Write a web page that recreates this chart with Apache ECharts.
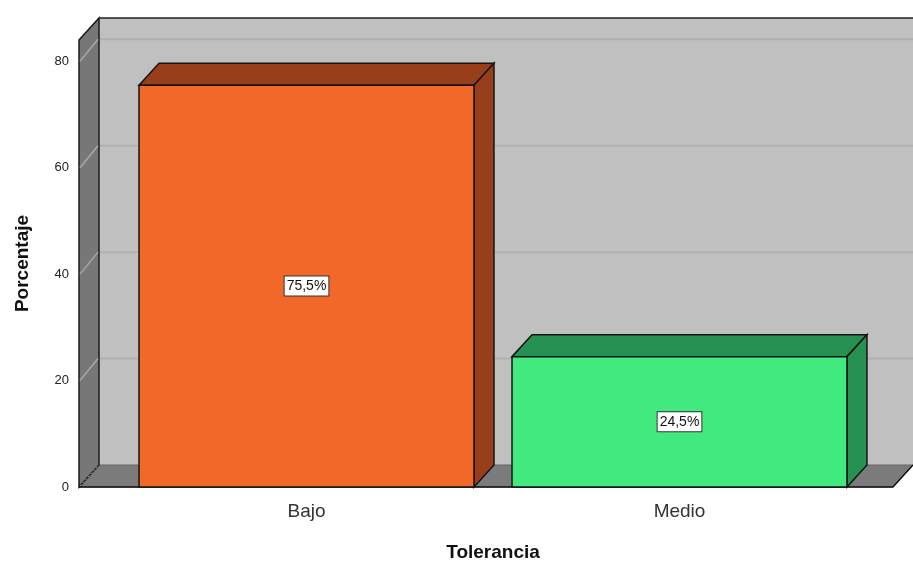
<!DOCTYPE html>
<html>
<head>
<meta charset="utf-8">
<script src="https://cdn.jsdelivr.net/npm/echarts@6/dist/echarts.min.js"></script>
<style>
  html, body { margin: 0; padding: 0; background: #fff; }
  #chart { width: 913px; height: 563px; }
</style>
</head>
<body>
<div id="chart"></div>
<script>
const categories = ['Bajo', 'Medio'];
const percentages = [75.5, 24.5];
const yTicks = [0, 20, 40, 60, 80];
const frontColors = ['#F26829', '#42E97F'];
const shadeColors = ['#983E1A', '#269151'];

// depth offset of the pseudo 3D look
const DX = 20, DY = -22;

function fmt(v) {
    return v.toFixed(1).replace('.', ',') + '%';
}

function renderFrame(params, api) {
    const cs = params.coordSys;
    const fl = cs.x - 41;
    const fr = cs.x + cs.width + 27;
    const yb = api.coord([0, 0])[1];
    const yt = cs.y;
    const children = [];
    // back wall
    children.push({
        type: 'rect',
        shape: { x: fl + DX, y: yt + DY, width: fr - fl + 40, height: yb - yt },
        style: { fill: '#c0c0c0' }
    });
    // grid lines
    yTicks.filter(v => v > 0).forEach(v => {
        const y = api.coord([0, v])[1];
        children.push({
            type: 'line',
            shape: { x1: fl + DX, y1: y + DY, x2: fr + DX + 40, y2: y + DY },
            style: { stroke: '#b0b0b0', lineWidth: 2 }
        });
    });
    // top edge of back wall
    children.push({
        type: 'line',
        shape: { x1: fl + DX, y1: yt + DY, x2: fr + DX + 40, y2: yt + DY },
        style: { stroke: '#222', lineWidth: 1.5 }
    });
    // floor
    children.push({
        type: 'polygon',
        shape: { points: [[fl, yb], [fr, yb], [fr + DX, yb + DY], [fl + DX, yb + DY]] },
        style: { fill: '#7b7b7b', stroke: '#666', lineWidth: 1 }
    });
    // left wall
    children.push({
        type: 'polygon',
        shape: { points: [[fl, yt], [fl + DX, yt + DY], [fl + DX, yb + DY], [fl, yb]] },
        style: { fill: '#777777', stroke: '#1a1a1a', lineWidth: 1.5 }
    });
    yTicks.filter(v => v > 0).forEach(v => {
        const y = api.coord([0, v])[1];
        children.push({
            type: 'line',
            shape: { x1: fl + 1, y1: y, x2: fl + DX - 1, y2: y + DY },
            style: { stroke: '#a8a8a8', lineWidth: 1.5 }
        });
    });
    children.push({
        type: 'line',
        shape: { x1: fl + 1, y1: yb - 1, x2: fl + DX, y2: yb + DY },
        style: { stroke: '#9a9a9a', lineWidth: 1, lineDash: [2, 2] }
    });
    // front floor edge
    children.push({
        type: 'polyline',
        shape: { points: [[fl, yb], [fr, yb], [fr + DX, yb + DY]] },
        style: { stroke: '#111', lineWidth: 1.5, fill: null }
    });
    return { type: 'group', children };
}

function renderBar(params, api) {
    const i = api.value(0);
    const v = api.value(1);
    const top = api.coord([i, v]);
    const base = api.coord([i, 0]);
    const w = api.size([1, 0])[0] * 0.898;
    const x0 = top[0] - w / 2, x1 = top[0] + w / 2;
    const yT = top[1], yB = base[1];
    const edge = { stroke: '#151515', lineWidth: 1.5 };
    return {
        type: 'group',
        children: [
            {
                type: 'polygon',
                shape: { points: [[x0, yT], [x0 + DX, yT + DY], [x1 + DX, yT + DY], [x1, yT]] },
                style: Object.assign({ fill: shadeColors[i] }, edge)
            },
            {
                type: 'polygon',
                shape: { points: [[x1, yT], [x1 + DX, yT + DY], [x1 + DX, yB + DY], [x1, yB]] },
                style: Object.assign({ fill: shadeColors[i] }, edge)
            },
            {
                type: 'rect',
                shape: { x: x0, y: yT, width: w, height: yB - yT },
                style: Object.assign({ fill: frontColors[i] }, edge)
            },
            {
                type: 'text',
                x: top[0],
                y: (yT + yB) / 2,
                style: {
                    text: fmt(v),
                    fill: '#111',
                    font: '14px "Liberation Sans", Arial, sans-serif',
                    align: 'center',
                    verticalAlign: 'middle',
                    backgroundColor: '#fff',
                    borderColor: '#333',
                    borderWidth: 1,
                    padding: [3, 2, 2, 2]
                }
            }
        ]
    };
}

const chart = echarts.init(document.getElementById('chart'));
chart.setOption({
    animation: false,
    backgroundColor: '#fff',
    grid: { left: 120, right: 47, top: 40, bottom: 76, outerBoundsMode: 'none' },
    xAxis: {
        type: 'category',
        data: categories,
        name: 'Tolerancia',
        nameLocation: 'middle',
        nameGap: 56,
        nameTextStyle: { fontSize: 19, fontWeight: 'bold', color: '#111', fontFamily: 'Liberation Sans' },
        axisLine: { show: false },
        axisTick: { show: false },
        axisLabel: { fontSize: 19, color: '#333', margin: 15, fontFamily: 'Liberation Sans' }
    },
    yAxis: {
        type: 'value',
        min: 0,
        max: 84,
        interval: 20,
        name: 'Porcentaje',
        nameLocation: 'middle',
        nameGap: 88,
        nameTextStyle: { fontSize: 19, fontWeight: 'bold', color: '#111', fontFamily: 'Liberation Sans' },
        axisLine: { show: false },
        axisTick: { show: false },
        splitLine: { show: false },
        axisLabel: { fontSize: 13, color: '#222', margin: 51, showMaxLabel: false, fontFamily: 'Liberation Sans' }
    },
    series: [
        {
            type: 'custom',
            renderItem: renderFrame,
            data: [[0, 0]],
            encode: { x: 0, y: 1 },
            silent: true,
            z: 1
        },
        {
            type: 'custom',
            renderItem: renderBar,
            data: percentages.map((v, i) => [i, v]),
            encode: { x: 0, y: 1 },
            z: 2
        }
    ]
});
</script>
</body>
</html>
